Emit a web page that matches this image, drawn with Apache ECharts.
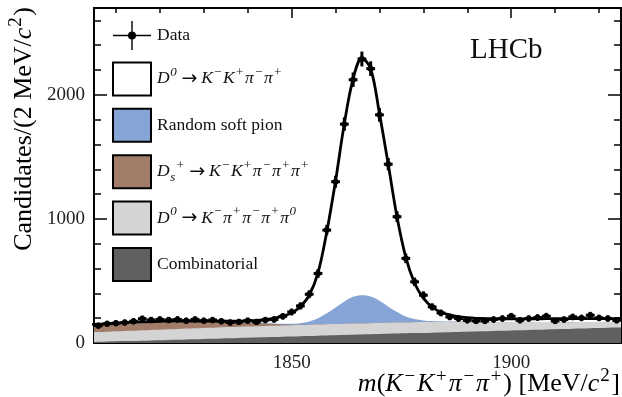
<!DOCTYPE html>
<html>
<head>
<meta charset="utf-8">
<script src="https://cdn.jsdelivr.net/npm/echarts@6/dist/echarts.min.js"></script>
<style>
  html, body { margin: 0; padding: 0; background: #ffffff; }
  #chart { width: 622px; height: 397px; }
</style>
</head>
<body>
<div id="chart"></div>
<script>
// Mass grid (MeV/c^2) on which the fit components are evaluated
const massGrid = [1804,1806,1808,1810,1812,1814,1816,1818,1820,1822,1824,1826,1828,1830,1832,1834,1836,1838,1840,1842,1844,1846,1848,1850,
  1852,1854,1856,1858,1860,1862,1864,1866,1868,1870,1872,1874,1876,1878,1880,1882,1884,1886,1888,1890,1892,1894,1896,1898,1900,
  1902,1904,1906,1908,1910,1912,1914,1916,1918,1920,1922,1924,1926];

// Fit components, candidates per 2 MeV/c^2
const combinatorial = [8,10,12,14,16,17,19,21,23,25,27,29,31,33,35,37,39,41,43,45,47,48,50,52,
  54,56,58,60,62,64,66,68,70,72,74,76,78,80,81,83,85,87,89,91,93,95,97,99,101,
  103,105,107,109,111,112,114,116,118,120,122,124,126];
const partReco = [77,78,79,80,81,82,83,84,84,85,86,87,87,88,88,89,89,90,90,90,91,91,91,91,
  91,91,91,91,91,91,91,90,90,90,89,89,88,88,88,86,85,83,82,80,78,75,73,70,68,
  66,64,62,60,58,56,54,53,51,49,48,46,44];
const dsBkg = [58,58,58,58,58,57,57,56,55,54,53,51,50,48,46,43,40,36,32,26,20,14,9,5,
  2,1,0,0,0,0,0,0,0,0,0,0,0,0,0,0,0,0,0,0,0,0,0,0,0,
  0,0,0,0,0,0,0,0,0,0,0,0,0];
const softPion = [0,0,0,0,0,0,0,0,0,0,0,0,0,0,0,0,1,1,2,2,3,4,5,7,
  12,25,50,88,133,180,215,227,214,178,130,85,48,25,13,8,5,3,2,1,0,0,0,0,0,
  0,0,0,0,0,0,0,0,0,0,0,0,0];
const signal = [7,6,7,8,9,11,11,11,12,11,10,10,9,8,8,8,8,9,12,19,28,42,61,88,
  136,212,366,656,1019,1433,1756,1910,1836,1510,1147,765,476,289,180,113,73,53,39,32,28,27,26,26,26,
  26,26,26,27,27,28,28,28,28,28,27,27,27];

// Measured candidates, bin centres of 2 MeV/c^2 bins
const binCenters = [1806,1808,1810,1812,1814,1816,1818,1820,1822,1824,1826,1828,1830,1832,1834,1836,1838,1840,1842,1844,1846,1848,
  1850,1852,1854,1856,1858,1860,1862,1864,1866,1868,1870,1872,1874,1876,1878,1880,1882,1884,1886,1888,1890,
  1892,1894,1896,1898,1900,1902,1904,1906,1908,1910,1912,1914,1916,1918,1920,1922,1924];
const counts = [140,155,160,165,175,195,185,190,185,190,180,190,180,185,175,165,170,180,170,185,190,215,
  250,299,393,560,910,1300,1764,2122,2289,2211,1839,1441,1018,682,493,385,291,242,210,197,183,
  178,178,189,197,216,183,197,205,216,178,189,210,202,224,202,197,183];

// Axis ticks
const xMajorTicks = [1850, 1900];
const xMinorTicks = [1810,1820,1830,1840,1860,1870,1880,1890,1910,1920];
const yMajorTicks = [0, 1000, 2000];
const yMinorTicks = [200,400,600,800,1200,1400,1600,1800,2200,2400,2600];

const FONT = 'Liberation Serif';
const INK = '#111111';
const colors = {
  signal: '#ffffff',
  softPion: '#86a5d6',
  ds: '#a17c68',
  partReco: '#d4d4d4',
  comb: '#606060'
};

// Running sums: each layer sits on top of the previous ones
const components = [combinatorial, partReco, dsBkg, softPion, signal];
let running = massGrid.map(() => 0);
const layers = components.map(c => (running = running.map((v, i) => v + c[i])));

function areaLayer(name, layer, color, z) {
  return {
    name, type: 'line', z,
    data: massGrid.map((m, i) => [m, layer[i]]),
    smooth: 0.35, symbol: 'none', showSymbol: false, silent: true,
    lineStyle: { width: 0 },
    itemStyle: { color },
    areaStyle: { color, opacity: 1, origin: 'start' },
    clip: true
  };
}

// Rich-text styles: roman, italic, arrow, superscript, subscript
function richSet(size) {
  const s = Math.round(size * 0.74);
  const h = Math.round(size * 0.74);
  return {
    r: { fontFamily: FONT, fontSize: size, color: INK, lineHeight: size + 8 },
    i: { fontFamily: FONT, fontSize: size, fontStyle: 'italic', color: INK, lineHeight: size + 8 },
    ar: { fontFamily: 'DejaVu Sans', fontSize: Math.round(size * 1.1), color: INK, lineHeight: size + 8 },
    up: { fontFamily: FONT, fontSize: s, fontStyle: 'italic', color: INK, verticalAlign: 'top', lineHeight: h, padding: [0, 1, 0, 0.5] },
    upr: { fontFamily: FONT, fontSize: s, color: INK, verticalAlign: 'top', lineHeight: h, padding: [0, 1.5, 0, 1] },
    lo: { fontFamily: FONT, fontSize: s, fontStyle: 'italic', color: INK, verticalAlign: 'bottom', lineHeight: h, padding: [0, 0, 0, 0.5] }
  };
}

const ARROW = '{ar|\u2009\u2192\u2009}';
const legendText = {
  Data: '{r|Data}',
  sig: '{i|D}{up|0}' + ARROW + '{i|K}{up|\u2212}{i|K}{up|+}{i|\u03c0}{up|\u2212}{i|\u03c0}{up|+}',
  softPion: '{r|Random soft pion}',
  ds: '{i|D}{lo|s}{up|+}' + ARROW + '{i|K}{up|\u2212}{i|K}{up|+}{i|\u03c0}{up|\u2212}{i|\u03c0}{up|+}{i|\u03c0}{up|+}',
  partReco: '{i|D}{up|0}' + ARROW + '{i|K}{up|\u2212}{i|\u03c0}{up|+}{i|\u03c0}{up|\u2212}{i|\u03c0}{up|+}{i|\u03c0}{up|0}',
  comb: '{r|Combinatorial}'
};

const dataIcon = 'path://M0,13.8H38V15.2H0Z M18.3,0H19.7V29H18.3Z M23,14.5A4,4,0,1,1,15,14.5A4,4,0,1,1,23,14.5Z';

function boxItem(name, color) {
  return { name, icon: 'rect', itemStyle: { color, borderColor: '#000', borderWidth: 2 } };
}

const tickStyle = { color: '#000', width: 1.5 };
const labelFont = { fontFamily: FONT, fontSize: 19, color: '#222', formatter: v => String(v) };
function xAxisDef(position, ticks, len, labels) {
  return {
    type: 'value', position, min: 1805, max: 1925,
    axisLine: { show: true, onZero: false, lineStyle: { color: '#000', width: 2 } },
    axisTick: { show: true, inside: true, length: len, customValues: ticks, lineStyle: tickStyle },
    axisLabel: labels ? Object.assign({ show: true, customValues: ticks, margin: 11 }, labelFont) : { show: false },
    splitLine: { show: false }
  };
}
function yAxisDef(position, ticks, len, labels) {
  return {
    type: 'value', position, min: 0, max: 2700,
    axisLine: { show: true, onZero: false, lineStyle: { color: '#000', width: 2 } },
    axisTick: { show: true, inside: true, length: len, customValues: ticks, lineStyle: tickStyle },
    axisLabel: labels ? Object.assign({ show: true, customValues: ticks, margin: 9 }, labelFont) : { show: false },
    splitLine: { show: false }
  };
}

const chart = echarts.init(document.getElementById('chart'), null, { renderer: 'canvas' });
chart.setOption({
  animation: false,
  backgroundColor: '#ffffff',
  grid: { left: 94, right: 1, top: 8, bottom: 54, containLabel: false },
  xAxis: [
    xAxisDef('bottom', xMajorTicks, 10, true),
    xAxisDef('bottom', xMinorTicks, 5, false),
    xAxisDef('top', xMajorTicks, 10, false),
    xAxisDef('top', xMinorTicks, 5, false)
  ],
  yAxis: [
    yAxisDef('left', yMajorTicks, 13, true),
    yAxisDef('left', yMinorTicks, 7, false),
    yAxisDef('right', yMajorTicks, 13, false),
    yAxisDef('right', yMinorTicks, 7, false)
  ],
  legend: {
    orient: 'vertical', left: 112, top: 21, padding: 0,
    itemWidth: 38, itemHeight: 33, itemGap: 11.4,
    selectedMode: false,
    textStyle: { fontFamily: FONT, fontSize: 17.5, color: INK, padding: [0, 0, 0, 1], rich: richSet(17.5) },
    formatter: name => legendText[name],
    data: [
      { name: 'Data', icon: dataIcon, itemStyle: { color: '#000', borderWidth: 0 } },
      boxItem('sig', colors.signal),
      boxItem('softPion', colors.softPion),
      boxItem('ds', colors.ds),
      boxItem('partReco', colors.partReco),
      boxItem('comb', colors.comb)
    ]
  },
  graphic: [
    {
      type: 'text', left: 470, top: 36,
      style: { text: 'LHCb', font: '29px "Liberation Serif"', fill: INK }
    },
    {
      type: 'text', right: 2, top: 367,
      style: {
        text: '{i|m}{r|(}{i|K}{up|\u2212}{i|K}{up|+}{i|\u03c0}{up|\u2212}{i|\u03c0}{up|+}{r|) [MeV/}{i|c}{upr|2}{r|]}',
        rich: richSet(26)
      }
    },
    {
      type: 'text', x: 24, y: 7, rotation: Math.PI / 2,
      style: {
        text: '{r|Candidates/(2 MeV/}{i|c}{upr|2}{r|)}',
        rich: richSet(26), align: 'right', verticalAlign: 'middle'
      }
    }
  ],
  series: [
    areaLayer('sig', layers[4], colors.signal, 1),
    areaLayer('softPion', layers[3], colors.softPion, 2),
    areaLayer('ds', layers[2], colors.ds, 3),
    areaLayer('partReco', layers[1], colors.partReco, 4),
    areaLayer('comb', layers[0], colors.comb, 5),
    {
      name: 'fit', type: 'line', z: 6,
      data: massGrid.map((m, i) => [m, layers[4][i]]),
      smooth: 0.35, symbol: 'none', showSymbol: false, silent: true, clip: true,
      lineStyle: { color: '#000', width: 2.8 }
    },
    {
      name: 'Data', type: 'custom', z: 7,
      data: binCenters.map((m, i) => [m, counts[i]]),
      itemStyle: { color: '#000' },
      renderItem(params, api) {
        const m = api.value(0), n = api.value(1), err = Math.sqrt(n);
        const c = api.coord([m, n]);
        const l = api.coord([m - 1, n]), r = api.coord([m + 1, n]);
        const t = api.coord([m, n + err]), b = api.coord([m, n - err]);
        const st = { stroke: '#000', lineWidth: 3 };
        return {
          type: 'group',
          children: [
            { type: 'line', shape: { x1: l[0], y1: c[1], x2: r[0], y2: c[1] }, style: st },
            { type: 'line', shape: { x1: c[0], y1: t[1] - 1.5, x2: c[0], y2: b[1] + 1.5 }, style: st },
            { type: 'circle', shape: { cx: c[0], cy: c[1], r: 3 }, style: { fill: '#000' } }
          ]
        };
      }
    }
  ]
});
</script>
</body>
</html>
